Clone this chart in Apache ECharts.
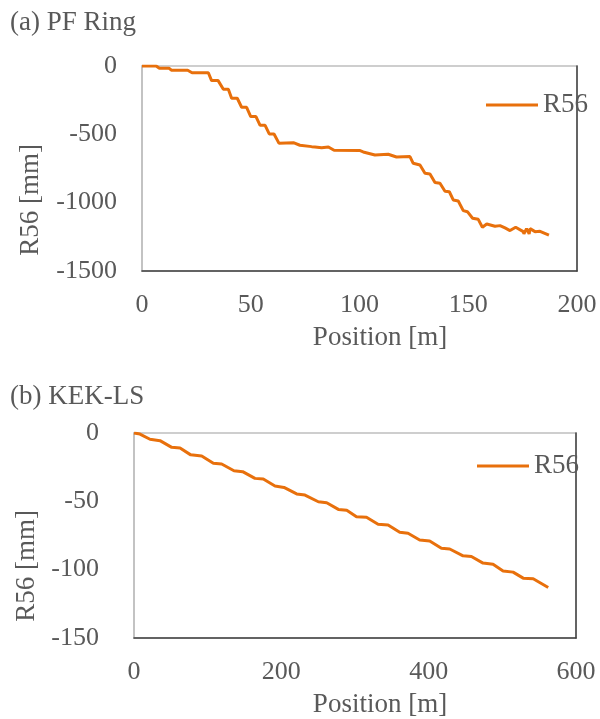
<!DOCTYPE html>
<html>
<head>
<meta charset="utf-8">
<script src="https://cdn.jsdelivr.net/npm/echarts@6/dist/echarts.min.js"></script>
<style>html,body{margin:0;padding:0;background:#fff}#c{width:600px;height:719px}</style>
</head>
<body>
<div id="c"></div>
<script>
// Top panel: (a) PF Ring
const pfPos = [0, 6.5, 8, 12.5, 13.5, 21, 23, 30.5, 32, 35, 37.4, 39.7, 41.2, 43.8, 45.8, 48.1, 50, 52.4, 54.3, 56.6, 58.5, 60.7, 63, 69.6, 72.6, 78, 78.8, 79.5, 82.6, 85.7, 88.3, 100, 101.7, 107.1, 113.2, 117, 123.2, 124.7, 127.8, 130.1, 132.4, 134.7, 137, 139.3, 141.3, 143.1, 145.4, 147.7, 149.6, 152, 154.6, 156.5, 158.5, 162.3, 164.6, 166.9, 169.2, 171.8, 175.3, 175.6, 176.8, 178, 178.4, 180.7, 183, 187.1];
const pfR56 = [0, 0, -17, -17, -31, -31, -49, -49, -107, -107, -170, -170, -236, -236, -302, -302, -370, -370, -434, -434, -497, -497, -566, -561, -580, -590, -578, -592, -598, -593, -617, -618, -629, -651, -646, -666, -663, -712, -724, -785, -790, -853, -858, -917, -920, -980, -988, -1058, -1066, -1114, -1122, -1180, -1156, -1173, -1168, -1185, -1204, -1180, -1212, -1229, -1190, -1229, -1190, -1212, -1210, -1238];
// Bottom panel: (b) KEK-LS
const kekPos = [0, 8.1, 21.7, 35.3, 51.2, 62.5, 77, 91.9, 107.7, 119, 135.7, 147.5, 164.2, 175.5, 191.4, 203.6, 220.8, 232.1, 250.2, 261.6, 277.4, 288.8, 302, 315.6, 331.3, 344.9, 360.7, 372, 387.8, 401.4, 417.3, 428.6, 446.7, 458, 473.8, 487.4, 501, 514.6, 528.3, 541.9, 562.3];
const kekR56 = [0, -0.8, -4.6, -5.6, -10.5, -11, -16, -16.8, -22.2, -22.7, -27.6, -28.3, -33.2, -33.7, -38.8, -39.8, -44.6, -45.4, -50.3, -51, -55.9, -56.6, -61.2, -61.7, -66.8, -67.3, -72.7, -73.4, -78.3, -79, -84.4, -84.9, -89.9, -90.4, -95.2, -96, -100.9, -101.8, -106.2, -106.7, -113.1];

const panelTitles = ['(a) PF Ring', '(b) KEK-LS'];
const seriesName = 'R56';
const xName = 'Position [m]';
const yName = 'R56 [mm]';

const FONT = 'Liberation Serif';
const TXT = '#595959';
const ORANGE = '#E8700C';

function zip(a, b) { return a.map((v, i) => [v, b[i]]); }
const plain = v => String(v);

const chart = echarts.init(document.getElementById('c'), null, {renderer: 'canvas'});

function xAxis(gi, max, interval) {
  return {
    type: 'value', gridIndex: gi, min: 0, max: max, interval: interval,
    axisLine: {show: true, onZero: false, lineStyle: {color: '#404040', width: 1.5}},
    axisTick: {show: false}, splitLine: {show: false},
    axisLabel: {color: TXT, fontFamily: FONT, fontSize: 26, lineHeight: 26, margin: 21, formatter: plain},
    name: xName, nameLocation: 'middle', nameGap: 53,
    nameTextStyle: {color: TXT, fontFamily: FONT, fontSize: 27, padding: [0, 0, 0, gi === 0 ? 41 : 50]}
  };
}
function yAxis(gi, min, interval, margin, gap, pad) {
  return {
    type: 'value', gridIndex: gi, min: min, max: 0, interval: interval,
    axisLine: {show: true, onZero: false, lineStyle: {color: '#bfbfbf', width: 1.5}},
    axisTick: {show: false}, splitLine: {show: false},
    axisLabel: {color: TXT, fontFamily: FONT, fontSize: 26, margin: margin, formatter: plain},
    name: yName, nameLocation: 'middle', nameGap: gap,
    nameTextStyle: {color: TXT, fontFamily: FONT, fontSize: 27, padding: [0, pad, 0, 0]}
  };
}
function rightBorder(gi, min) {
  return {
    type: 'value', gridIndex: gi, position: 'right', min: min, max: 0,
    axisLine: {show: true, onZero: false, lineStyle: {color: '#404040', width: 1.5}},
    axisTick: {show: false}, axisLabel: {show: false}, splitLine: {show: false}
  };
}

chart.setOption({
  animation: false,
  backgroundColor: '#fff',
  grid: [
    {left: 142, top: 66, width: 435, height: 205, show: true, borderColor: '#bfbfbf', borderWidth: 1.5},
    {left: 134, top: 433, width: 442, height: 205, show: true, borderColor: '#bfbfbf', borderWidth: 1.5}
  ],
  xAxis: [xAxis(0, 200, 50), xAxis(1, 600, 200)],
  yAxis: [yAxis(0, -1500, 500, 25, 98, 63), yAxis(1, -150, 50, 35, 90, 61), rightBorder(0, -1500), rightBorder(1, -150)],
  legend: [
    {left: 481, top: 86, icon: 'rect', itemWidth: 52, itemHeight: 3, data: [seriesName],
     textStyle: {color: TXT, fontFamily: FONT, fontSize: 27, lineHeight: 28}, selectedMode: false},
    {left: 472, top: 447, icon: 'rect', itemWidth: 52, itemHeight: 3, data: [seriesName],
     textStyle: {color: TXT, fontFamily: FONT, fontSize: 27, lineHeight: 28}, selectedMode: false}
  ],
  graphic: [
    {type: 'text', left: 10, top: 9, style: {text: panelTitles[0], fill: TXT, font: '27px "' + FONT + '"'}},
    {type: 'text', left: 10, top: 383, style: {text: panelTitles[1], fill: TXT, font: '27px "' + FONT + '"'}}
  ],
  series: [
    {name: seriesName, type: 'line', xAxisIndex: 0, yAxisIndex: 0, data: zip(pfPos, pfR56),
     symbol: 'none', lineStyle: {color: ORANGE, width: 3}, itemStyle: {color: ORANGE}},
    {name: seriesName, type: 'line', xAxisIndex: 1, yAxisIndex: 1, data: zip(kekPos, kekR56),
     symbol: 'none', lineStyle: {color: ORANGE, width: 3}, itemStyle: {color: ORANGE}}
  ]
});
</script>
</body>
</html>
